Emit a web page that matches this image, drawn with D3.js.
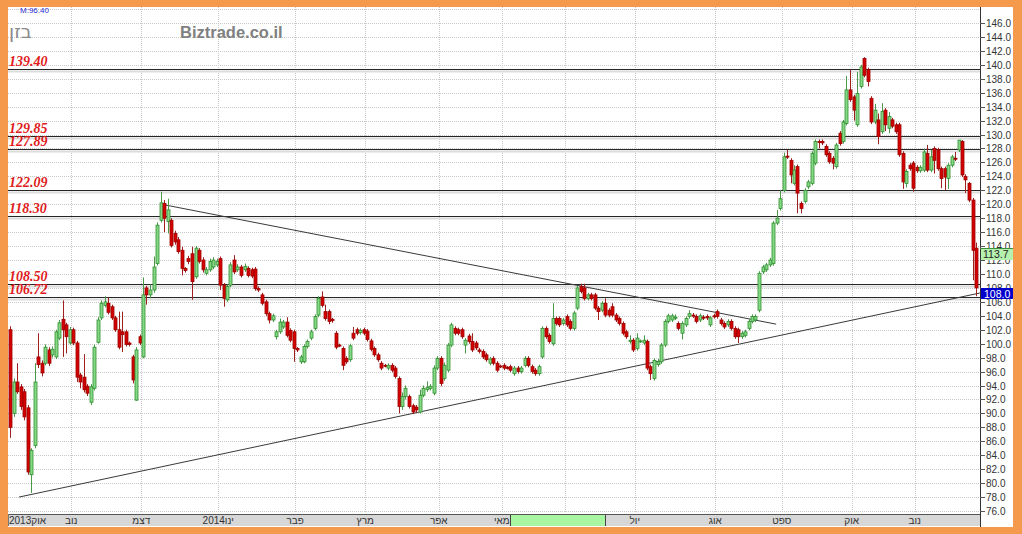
<!DOCTYPE html>
<html><head><meta charset="utf-8">
<script src="https://cdn.jsdelivr.net/npm/d3@7"></script>
<style>html,body{margin:0;padding:0;background:#f59a4c;}svg{display:block;}</style>
</head><body>
<svg id="chart" width="1022" height="534"></svg>
<script>
// ---------- DATA ----------
const opens = [102.0,90.0,94.5,93.8,93.1,90.8,81.2,85.4,98.1,97.2,
97.2,99.1,98.4,98.1,100.8,103.5,102.7,100.1,102.0,100.1,
95.5,95.2,93.9,91.6,93.6,100.2,103.7,105.5,105.8,105.3,
103.7,102.0,101.7,101.7,100.1,98.1,91.9,101.0,98.1,108.0,
107.0,107.7,111.5,117.7,120.1,117.5,117.7,115.8,114.9,113.4,
110.8,112.2,112.9,109.6,113.4,112.0,110.1,110.6,111.0,111.3,
112.2,108.4,106.3,108.4,112.0,110.6,111.0,110.6,110.8,110.6,
110.7,107.9,107.0,106.0,104.3,103.4,101.0,101.7,102.4,103.1,
101.9,101.7,99.3,97.4,97.4,99.6,100.8,102.2,104.1,106.7,
104.6,104.6,103.5,101.5,99.8,99.3,97.9,97.7,101.5,102.0,
101.6,102.0,101.8,100.4,99.3,98.4,97.2,96.9,96.5,96.9,
96.5,95.0,91.0,92.4,92.4,91.1,90.9,90.2,92.6,93.4,
93.6,92.9,96.5,97.9,95.0,96.2,99.8,102.2,102.0,102.0,
99.8,101.1,100.3,100.1,99.1,98.9,98.4,97.2,97.9,97.2,
96.8,96.9,96.6,96.7,95.7,96.5,96.0,96.9,97.9,96.7,
96.2,95.7,98.1,102.2,101.2,100.0,103.6,103.6,102.9,103.9,
103.2,102.2,105.1,108.2,108.0,106.5,107.0,107.0,105.1,104.8,
105.8,104.8,105.3,104.1,103.6,102.9,101.7,100.3,100.5,99.3,
100.3,100.1,100.3,96.7,95.0,97.0,97.4,99.8,103.2,103.4,
103.7,102.9,101.5,102.7,103.9,104.1,103.9,103.4,103.8,103.9,
102.7,104.0,104.6,103.4,102.9,102.7,103.2,102.2,102.0,101.0,
101.2,102.2,103.2,103.4,104.8,110.3,110.6,111.3,111.5,117.3,
119.4,122.0,126.9,126.3,123.0,125.4,120.1,120.4,122.5,123.0,
125.9,129.0,129.0,128.3,127.3,126.6,125.4,130.2,129.0,131.6,
136.4,135.4,131.4,136.9,140.9,139.3,135.2,131.8,132.1,130.4,
133.5,130.9,132.1,131.4,131.4,127.3,123.0,125.6,125.9,125.3,
124.8,124.9,127.3,124.9,128.0,127.8,125.1,125.1,123.7,125.6,
126.6,127.8,129.0,124.0,123.0,120.6,113.7];
const highs = [102.5,95.0,97.2,94.2,93.5,91.2,85.0,97.2,101.5,97.6,
99.9,99.5,99.6,102.0,103.4,106.2,103.0,102.4,102.3,100.4,
95.8,98.5,94.2,94.2,99.9,103.8,106.2,106.8,106.6,105.6,
104.0,104.6,104.6,102.0,100.3,98.4,99.5,101.3,109.5,108.3,
108.5,112.5,117.4,121.8,120.6,120.8,118.0,116.2,115.3,113.9,
111.0,112.6,113.9,114.0,113.7,112.4,111.0,112.2,112.4,112.2,
112.5,108.7,108.5,111.7,112.7,111.4,111.3,111.5,111.1,110.9,
111.0,108.2,107.3,106.3,104.6,104.3,102.0,103.6,103.4,103.8,
102.2,102.0,99.5,98.4,99.9,100.6,102.0,104.2,106.8,107.5,
105.6,104.9,103.7,101.8,100.0,99.6,98.2,100.0,102.4,102.3,
102.2,102.3,102.1,100.7,99.6,98.7,97.5,97.1,97.2,97.2,
96.8,95.3,93.0,94.0,92.7,91.4,91.2,93.4,94.0,94.6,
94.2,96.9,98.2,98.2,97.3,100.1,103.0,102.5,102.3,102.3,
100.8,101.4,101.5,100.4,99.4,99.2,98.7,98.1,98.2,97.5,
97.0,97.2,96.8,97.0,96.8,96.8,96.8,98.2,98.2,97.0,
96.5,97.0,102.5,102.5,101.5,105.8,103.9,103.9,103.7,104.2,
103.5,104.7,108.3,108.6,108.6,107.3,107.3,107.3,105.4,106.1,
106.5,105.1,105.8,104.4,103.9,103.2,102.0,101.2,100.8,101.5,
100.6,101.2,100.6,97.0,97.9,97.8,100.1,103.5,104.3,104.3,
104.2,103.2,103.2,103.9,104.8,104.4,104.2,104.3,104.1,104.2,
104.0,104.3,104.9,103.7,103.2,103.5,103.5,102.5,102.3,101.8,
102.0,103.5,104.2,104.2,110.4,111.3,111.6,112.3,117.6,119.2,
122.0,127.4,127.8,126.6,125.6,125.7,120.4,122.3,123.5,127.6,
129.3,129.3,129.3,128.6,127.6,126.9,128.8,130.5,132.1,138.4,
139.3,135.7,139.0,140.0,141.1,139.6,135.5,134.4,133.0,134.5,
133.8,133.2,132.4,131.7,131.7,127.6,125.0,125.9,126.2,125.6,
125.6,128.0,128.5,127.8,128.3,128.1,125.4,125.4,125.9,127.1,
127.5,129.2,129.2,124.3,123.2,120.9,114.5];
const lows = [86.5,89.5,92.8,90.5,89.0,81.2,78.6,85.0,96.5,95.3,
96.9,96.8,98.0,97.8,100.5,98.1,98.6,99.8,99.8,94.5,
93.6,93.0,92.5,91.2,93.3,100.0,103.4,105.2,104.2,103.4,
101.7,99.2,98.8,99.6,99.6,94.3,91.8,99.8,97.9,105.6,
106.5,107.3,111.2,117.4,116.0,115.8,113.8,114.2,112.9,109.8,
110.2,111.4,106.3,109.3,111.5,110.2,109.8,110.3,110.7,111.0,
107.7,105.3,106.0,108.1,110.0,110.3,109.5,110.3,109.5,109.4,
107.6,107.4,105.5,104.0,102.9,103.1,100.6,101.4,102.1,100.9,
100.2,97.4,98.8,97.1,97.2,99.3,100.5,101.9,103.8,105.2,
103.3,102.8,103.0,99.2,99.5,96.2,97.1,97.4,100.5,101.2,
101.3,101.2,100.3,98.9,98.1,97.4,96.2,96.6,96.2,95.9,
95.0,90.0,90.5,92.0,90.7,89.9,90.1,90.0,92.3,93.1,
93.3,92.6,96.2,93.9,94.7,95.9,99.5,101.2,101.2,100.7,
98.6,100.0,98.8,99.1,98.6,97.8,97.4,96.9,96.9,95.9,
96.5,96.2,96.3,95.9,95.4,95.7,95.7,96.6,96.6,95.7,
95.4,95.4,97.8,100.7,100.0,99.7,102.6,102.4,102.6,102.4,
101.9,101.9,104.8,107.2,106.2,106.2,106.2,104.8,103.4,104.5,
103.8,103.8,103.8,103.1,102.6,101.2,100.7,100.0,98.8,99.0,
100.1,99.8,96.2,94.8,94.7,96.7,97.1,99.5,102.9,103.1,
103.4,101.9,100.6,102.4,103.6,103.7,102.9,103.1,103.4,103.4,
102.4,103.6,103.6,102.6,102.1,102.4,101.9,100.7,100.1,100.7,
100.9,101.9,102.9,103.1,104.5,110.0,110.3,111.0,111.2,117.0,
119.1,121.7,126.5,123.0,122.7,118.7,118.7,120.1,122.2,122.7,
125.6,128.0,128.5,126.8,125.8,125.0,125.1,128.4,128.7,131.3,
134.7,132.0,131.1,136.6,138.2,136.9,131.5,131.5,128.6,130.1,
130.5,130.2,130.9,130.1,126.8,122.2,122.4,124.8,121.8,124.5,
124.5,124.6,124.6,124.6,124.4,124.8,122.3,122.0,122.2,125.3,
126.2,127.5,123.9,121.6,120.3,109.1,106.8];
const closes = [88.0,94.5,93.1,91.0,89.5,81.6,84.7,94.5,97.0,95.8,
99.5,97.2,99.2,101.7,103.0,102.0,101.0,102.0,100.1,95.2,
94.5,93.4,92.9,93.8,99.5,103.4,105.8,106.0,104.5,103.7,
102.0,99.5,101.3,99.9,99.9,94.8,99.1,100.1,107.0,107.0,
107.7,111.0,117.0,120.2,118.0,119.2,114.1,114.6,113.2,110.8,
110.5,111.8,108.9,113.7,111.8,110.6,110.6,111.8,112.0,111.8,
108.4,106.5,108.2,111.3,110.3,111.0,109.8,111.1,109.8,109.7,
107.9,107.7,105.8,104.3,103.4,104.0,101.7,103.1,103.1,101.2,
100.5,99.3,99.1,98.1,99.6,100.3,101.7,103.9,106.5,105.5,
103.6,103.2,103.3,99.5,99.7,96.9,97.4,99.7,100.8,101.5,
101.9,101.5,100.6,99.2,98.4,97.7,96.5,96.8,96.9,96.2,
95.3,91.0,92.4,93.6,91.0,90.2,90.5,92.6,93.6,93.7,
93.9,96.5,97.9,94.3,96.9,99.8,102.7,101.5,101.5,101.0,
100.5,100.3,99.1,99.4,98.9,98.1,97.7,97.8,97.2,96.2,
96.7,96.5,96.5,96.2,96.5,96.0,96.5,97.9,96.9,96.0,
95.7,96.7,102.2,101.0,100.3,103.6,102.9,102.7,103.4,102.7,
102.2,104.4,108.0,107.5,106.5,107.0,106.5,105.1,104.6,105.8,
104.1,104.1,104.1,103.4,102.9,101.5,101.0,100.5,99.1,100.8,
100.4,100.5,96.5,95.7,97.6,97.4,99.8,103.2,104.0,104.0,
103.8,102.2,102.9,103.6,104.3,104.0,103.2,104.0,103.7,103.7,
103.7,103.9,103.9,102.9,102.4,103.2,102.2,101.0,101.0,101.5,
101.7,103.2,103.9,103.9,110.1,111.0,111.3,112.0,117.3,118.0,
120.8,126.8,126.8,124.2,124.9,121.6,119.4,122.0,123.2,127.3,
129.0,128.9,128.8,127.1,126.1,125.9,128.5,128.7,131.8,136.4,
135.0,133.5,135.9,139.7,138.5,137.6,131.8,133.5,129.7,133.3,
131.4,132.6,131.2,130.4,127.1,123.2,124.7,125.1,122.3,124.8,
125.3,127.5,124.9,126.8,126.3,125.1,123.7,123.9,125.6,126.8,
126.5,129.2,124.2,123.5,120.6,113.4,108.0];

// month labels and the candle index where each month starts
const monthLabels = ["2013אוק","נוב","דצמ","2014ינו","פבר","מרץ","אפר","מאי","","יול","אוג","ספט","אוק","נוב"];
const monthStarts = [0,18,38,60,82,102,123,141,159,179,202,221,241,259];

// horizontal resistance/support levels
const levels = [139.40,129.85,127.89,122.09,118.30,108.50,106.72];
const levelLabels = ["139.40","129.85","127.89","122.09","118.30","108.50","106.72"];

// trend lines as [candle index, price]
const resistanceLine = [[44.3,119.9],[218.9,102.8]];
const supportLine = [[2.6,78.0],[277.1,107.27]];

// y tick values / labels
const yTicks = d3.range(76,147,2);
const yTickLabels = yTicks.map(v => v.toFixed(1));

// highlighted range in the time bar (candle indices)
const barHighlight = [143,170];

// right-side value boxes
const lastValues = [{v:113.7, label:"113.7", kind:"avg"},{v:108.0, label:"108.0", kind:"last"}];

// ---------- DRAW ----------
const svg = d3.select("#chart");
const W = 1022, H = 534;
svg.append("rect").attr("x",0).attr("y",0).attr("width",W).attr("height",H).attr("fill","#f59a4c");
svg.append("rect").attr("x",8).attr("y",7).attr("width",1005).attr("height",520).attr("fill","#ffffff");

const N = opens.length;
const x = d3.scaleLinear().domain([0, N-1]).range([10, 976]);
const y = d3.scaleLinear().domain([76,146]).range([511,23]);
const plotL = 8, plotR = 980, plotT = 7, plotB = 513;
const step = x(1)-x(0);

// grid
const grid = svg.append("g");
d3.range(76,149,2).forEach(v=>{
  grid.append("line").attr("x1",plotL).attr("x2",plotR)
    .attr("y1",Math.round(y(v))+0.5).attr("y2",Math.round(y(v))+0.5)
    .attr("stroke","#c9c9c9").attr("stroke-dasharray","1,1").attr("stroke-width",1);
});
monthStarts.forEach((s,i)=>{
  if(i===0) return;
  const gx = Math.round(x(s)-step/2)+0.5;
  grid.append("line").attr("x1",gx).attr("x2",gx).attr("y1",plotT).attr("y2",plotB)
    .attr("stroke","#c9c9c9").attr("stroke-dasharray","1,1");
});

// level lines
const lv = svg.append("g");
levels.forEach((v,i)=>{
  const ly = Math.round(y(v))+0.5;
  lv.append("line").attr("x1",plotL).attr("x2",plotR).attr("y1",ly+2).attr("y2",ly+2)
    .attr("stroke","#dcdcdc").attr("stroke-width",2);
  lv.append("line").attr("x1",plotL).attr("x2",plotR).attr("y1",ly).attr("y2",ly)
    .attr("stroke","#262626").attr("stroke-width",1);
  lv.append("text").attr("x",9).attr("y",ly-4).text(levelLabels[i])
    .attr("font-family","Liberation Serif, serif").attr("font-style","italic").attr("font-weight","bold")
    .attr("font-size",14).attr("fill","#e01b1b");
});

// title texts
svg.append("text").attr("x",180).attr("y",38).text("Biztrade.co.il")
  .attr("font-family","Liberation Sans, Arial, sans-serif").attr("font-weight","bold")
  .attr("font-size",16.5).attr("fill","#808080");
svg.append("text").attr("x",9).attr("y",38).text("בזן")
  .attr("font-family","DejaVu Sans, sans-serif").attr("font-size",19).attr("fill","#8a8a8a");
svg.append("text").attr("x",20).attr("y",13).text("M:96.40")
  .attr("font-family","Liberation Sans, Arial, sans-serif").attr("font-size",8).attr("fill","#2b2bd0");

// trend lines
const tl = d3.line().x(d=>x(d[0])).y(d=>y(d[1]));
[resistanceLine, supportLine].forEach(l=>{
  svg.append("path").attr("d",tl(l)).attr("fill","none").attr("stroke","#3a3a3a").attr("stroke-width",1);
});

// candles
const cg = svg.append("g");
for(let i=0;i<N;i++){
  const o=opens[i], c=closes[i], h=highs[i], l=lows[i];
  const up = c>=o;
  const cx = Math.round(x(i))+0.5;
  const stroke = up ? "#2f8f2f" : "#9c0000";
  const fill = up ? "#86d886" : "#d40000";
  cg.append("line").attr("x1",cx).attr("x2",cx).attr("y1",y(h)).attr("y2",y(l))
    .attr("stroke", up ? "#4a9a4a" : "#a02020").attr("stroke-width",1);
  const top = y(Math.max(o,c)), bot = y(Math.min(o,c));
  cg.append("rect").attr("x",cx-1.5).attr("y",top).attr("width",3).attr("height",Math.max(1,bot-top))
    .attr("fill",fill).attr("stroke",stroke).attr("stroke-width",0.8);
}

// time bar
const bar = svg.append("g");
bar.append("rect").attr("x",plotL).attr("y",514).attr("width",plotR-plotL).attr("height",12).attr("fill","#d7d7d7");
bar.append("rect").attr("x",x(barHighlight[0])).attr("y",514.5).attr("width",x(barHighlight[1])-x(barHighlight[0])).attr("height",11.5).attr("fill","#a8f5a2");
[barHighlight[0],barHighlight[1]].forEach(b=>{
  bar.append("line").attr("x1",Math.round(x(b))+0.5).attr("x2",Math.round(x(b))+0.5).attr("y1",514).attr("y2",526).attr("stroke","#444");
});
bar.append("line").attr("x1",plotL).attr("x2",plotR).attr("y1",514.5).attr("y2",514.5).attr("stroke","#555");
bar.append("line").attr("x1",plotL+0.5).attr("x2",plotL+0.5).attr("y1",514).attr("y2",526).attr("stroke","#777");
monthLabels.forEach((lab,i)=>{
  if(!lab) return;
  const t = bar.append("text").attr("y",524).text(lab)
    .attr("font-family","Liberation Sans, Arial, sans-serif").attr("font-size",10).attr("fill","#333");
  if(i===0){ t.attr("x",9).attr("text-anchor","start"); }
  else { t.attr("x",x(monthStarts[i])-step/2).attr("text-anchor","middle"); }
});

// right axis
const ax = svg.append("g");
ax.append("line").attr("x1",980.5).attr("x2",980.5).attr("y1",plotT).attr("y2",527).attr("stroke","#333");
yTicks.forEach((v,i)=>{
  const ty = Math.round(y(v))+0.5;
  ax.append("line").attr("x1",980).attr("x2",985).attr("y1",ty).attr("y2",ty).attr("stroke","#555");
  ax.append("text").attr("x",986).attr("y",ty+3.5).text(yTickLabels[i])
    .attr("font-family","Liberation Sans, Arial, sans-serif").attr("font-size",10).attr("fill","#333");
});

// value boxes
lastValues.forEach(d=>{
  const by = Math.round(y(d.v));
  const g = svg.append("g");
  if(d.kind==="avg"){
    g.append("line").attr("x1",plotR).attr("x2",1013).attr("y1",by+0.5).attr("y2",by+0.5).attr("stroke","#3c8f3c");
    g.append("rect").attr("x",981).attr("y",by+1).attr("width",32).attr("height",11).attr("fill","#b6f0ae");
    g.append("text").attr("x",983).attr("y",by+10).text(d.label)
      .attr("font-family","Liberation Sans, Arial, sans-serif").attr("font-size",10.5).attr("fill","#222");
  } else {
    g.append("rect").attr("x",981).attr("y",by).attr("width",32).attr("height",11).attr("fill","#0000cc");
    g.append("text").attr("x",984).attr("y",by+9.5).text(d.label)
      .attr("font-family","Liberation Sans, Arial, sans-serif").attr("font-size",10.5).attr("fill","#ffffff");
  }
});
</script>
</body></html>
